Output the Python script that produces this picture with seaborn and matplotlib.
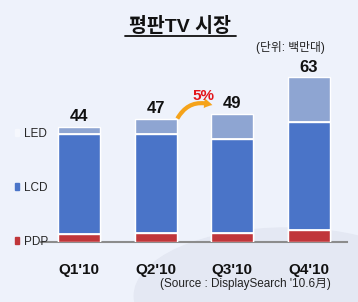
import numpy as np
import pandas as pd
import matplotlib
matplotlib.use('Agg')
import matplotlib.pyplot as plt
from matplotlib.patches import Patch, Ellipse
from matplotlib.lines import Line2D
import seaborn as sns

quarters = ["Q1'10", "Q2'10", "Q3'10", "Q4'10"]
pdp = [3.2, 3.5, 3.5, 4.6]
lcd = [38.1, 37.8, 35.9, 41.4]
led = [2.7, 5.7, 9.6, 17.0]
totals = [44, 47, 49, 63]
growth_label = '5%'

c_led = '#8ea5d2'
c_lcd = '#4a74c8'
c_pdp = '#c0363a'
bg = '#eef2fb'

sns.set_style('white')
plt.rcParams['font.family'] = ['Liberation Sans', 'Noto Sans CJK KR', 'DejaVu Sans']

df = pd.DataFrame({'quarter': quarters, 'pdp': pdp, 'lcd': lcd, 'led': led})
df['lcd_top'] = df['pdp'] + df['lcd']
df['total'] = df['lcd_top'] + df['led']

fig = plt.figure(figsize=(3.58, 3.02), dpi=100, facecolor=bg)
# faint background watermark
fig.patches.append(Ellipse((0.8, 0.02), 0.85, 0.45, transform=fig.transFigure,
                           color='#e4e8f3', zorder=-5))
ax = fig.add_axes([41/358, 60/302, 306/358, 182/302])
ax.set_facecolor('none')

bw = 0.55
sns.barplot(data=df, x='quarter', y='total', color=c_led, saturation=1, width=bw, ax=ax, zorder=2)
sns.barplot(data=df, x='quarter', y='lcd_top', color=c_lcd, saturation=1, width=bw, ax=ax, zorder=3)
sns.barplot(data=df, x='quarter', y='pdp', color=c_pdp, saturation=1, width=bw, ax=ax, zorder=4)

xs = np.arange(len(quarters))
ax.hlines(df['lcd_top'], xs - bw/2, xs + bw/2, color='white', lw=1.3, zorder=5)
ax.hlines(df['pdp'], xs - bw/2, xs + bw/2, color='white', lw=1.3, zorder=5)

for i, t in enumerate(totals):
    ax.annotate(str(t), (i, df['total'][i]), xytext=(0, 2), textcoords='offset points',
                ha='center', va='bottom', fontsize=12, fontweight='bold', color='#111111')

ax.set_xlim(-0.5, 3.5)
ax.set_ylim(0, 69.7)
ax.set_xlabel('')
ax.set_ylabel('')
ax.set_yticks([])
for s in ['top', 'right', 'left']:
    ax.spines[s].set_visible(False)
ax.spines['bottom'].set_color('#8c8c8c')
ax.spines['bottom'].set_linewidth(1.5)
ax.set_xticks(xs)
ax.set_xticklabels(quarters, fontsize=11, fontweight='bold', color='#111111')
ax.tick_params(axis='x', which='major', length=0, pad=15)
ax.set_xticks(np.arange(-0.5, 4, 1), minor=True)
ax.tick_params(axis='x', which='minor', length=4, width=1.2, color='#8c8c8c', direction='out')

handles = [Patch(color='#f6f8fd', label='LED'),
           Patch(color=c_lcd, label='LCD'),
           Patch(color=c_pdp, label='PDP')]
fig.legend(handles=handles, loc='upper left', bbox_to_anchor=(10/358, 1 - 123/302),
           frameon=False, fontsize=8.5, handlelength=0.4, handleheight=0.55,
           handletextpad=0.35, labelspacing=3.55, borderaxespad=0)

# title with underline
fig.text(180/358, 1 - 26/302, '평판TV 시장', ha='center', va='center',
         fontsize=14, fontweight='bold', color='#111111')
fig.add_artist(Line2D([125/358, 236/358], [1 - 36/302, 1 - 36/302], color='#111111', lw=1.3))
fig.text(290/358, 1 - 47/302, '(단위: 백만대)', ha='center', va='center', fontsize=8.5, color='#222222')

# growth arrow
ax.annotate('', xy=(215, 302 - 106), xytext=(176, 302 - 121), xycoords='figure pixels',
            textcoords='figure pixels',
            arrowprops=dict(arrowstyle='simple,head_width=0.7,head_length=0.6,tail_width=0.3',
                            connectionstyle='arc3,rad=-0.45', color='#f5a31a', lw=0))
fig.text(203/358, 1 - 96/302, growth_label, ha='center', va='center', fontsize=11,
         fontweight='bold', color='#e3151b')

fig.text(245/358, 1 - 284/302, "(Source : DisplaySearch '10.6月)", ha='center', va='center',
         fontsize=8.5, color='#222222')

plt.savefig('out.png', dpi=100, facecolor=bg)
